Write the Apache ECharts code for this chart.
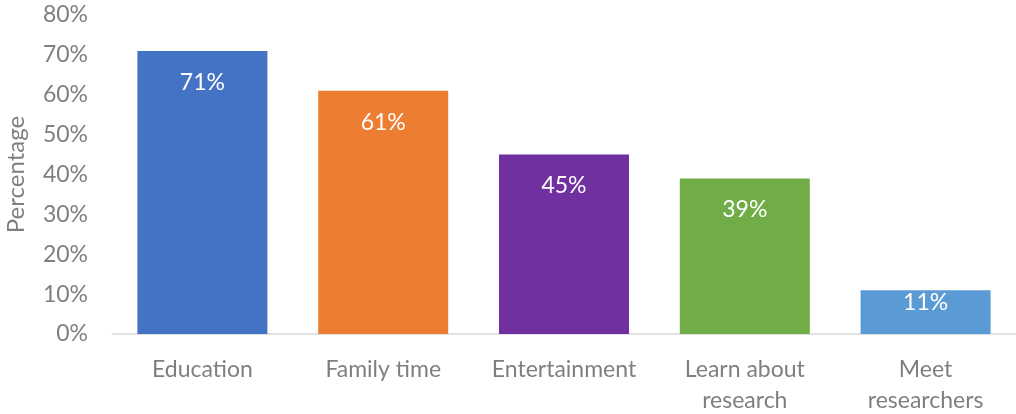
<!DOCTYPE html>
<html>
<head>
<meta charset="utf-8">
<script src="https://cdn.jsdelivr.net/npm/echarts@6/dist/echarts.min.js"></script>
<style>
  html, body { margin: 0; padding: 0; background: #fff; }
  #chart { width: 1016px; height: 414px; }
</style>
</head>
<body>
<div id="chart"></div>
<script>
// Reasons for attending, share of respondents
const categories = ['Education', 'Family time', 'Entertainment', 'Learn about\nresearch', 'Meet\nresearchers'];
const values = [71, 61, 45, 39, 11];
const barColors = ['#4472C4', '#ED7D31', '#7030A0', '#70AD47', '#5B9BD5'];
const yTicks = [0, 10, 20, 30, 40, 50, 60, 70, 80];

const fontFamily = 'Lato, "Open Sans", sans-serif';
const textGrey = '#7f7f7f';

const chart = echarts.init(document.getElementById('chart'));
chart.setOption({
  animation: false,
  grid: { left: 112, right: 0, top: 15, bottom: 80, outerBoundsMode: 'none', containLabel: false },
  xAxis: {
    type: 'category',
    data: categories,
    axisLine: { show: true, lineStyle: { color: '#d9d9d9', width: 1.5 } },
    axisTick: { show: false },
    axisLabel: {
      color: textGrey, fontSize: 23, fontFamily: fontFamily,
      margin: 20, lineHeight: 31, interval: 0
    }
  },
  yAxis: {
    type: 'value',
    min: yTicks[0],
    max: yTicks[yTicks.length - 1],
    interval: 10,
    name: 'Percentage',
    nameLocation: 'middle',
    nameGap: 84,
    nameRotate: 90,
    nameTextStyle: { color: textGrey, fontSize: 24, fontFamily: fontFamily },
    axisLine: { show: false },
    axisTick: { show: false },
    splitLine: { show: false },
    axisLabel: {
      color: textGrey, fontSize: 23, fontFamily: fontFamily, margin: 24,
      formatter: v => v + '%'
    }
  },
  series: [{
    type: 'bar',
    data: values.map((v, i) => ({
      value: v,
      itemStyle: { color: barColors[i] },
      // short bars keep their label tucked right under the top edge
      label: v < 20 ? { distance: 1 } : undefined
    })),
    barWidth: 130,
    label: {
      show: true,
      position: 'insideTop',
      distance: 20,
      color: '#ffffff',
      fontSize: 23,
      fontFamily: fontFamily,
      formatter: p => p.value + '%'
    }
  }]
});
</script>
</body>
</html>
